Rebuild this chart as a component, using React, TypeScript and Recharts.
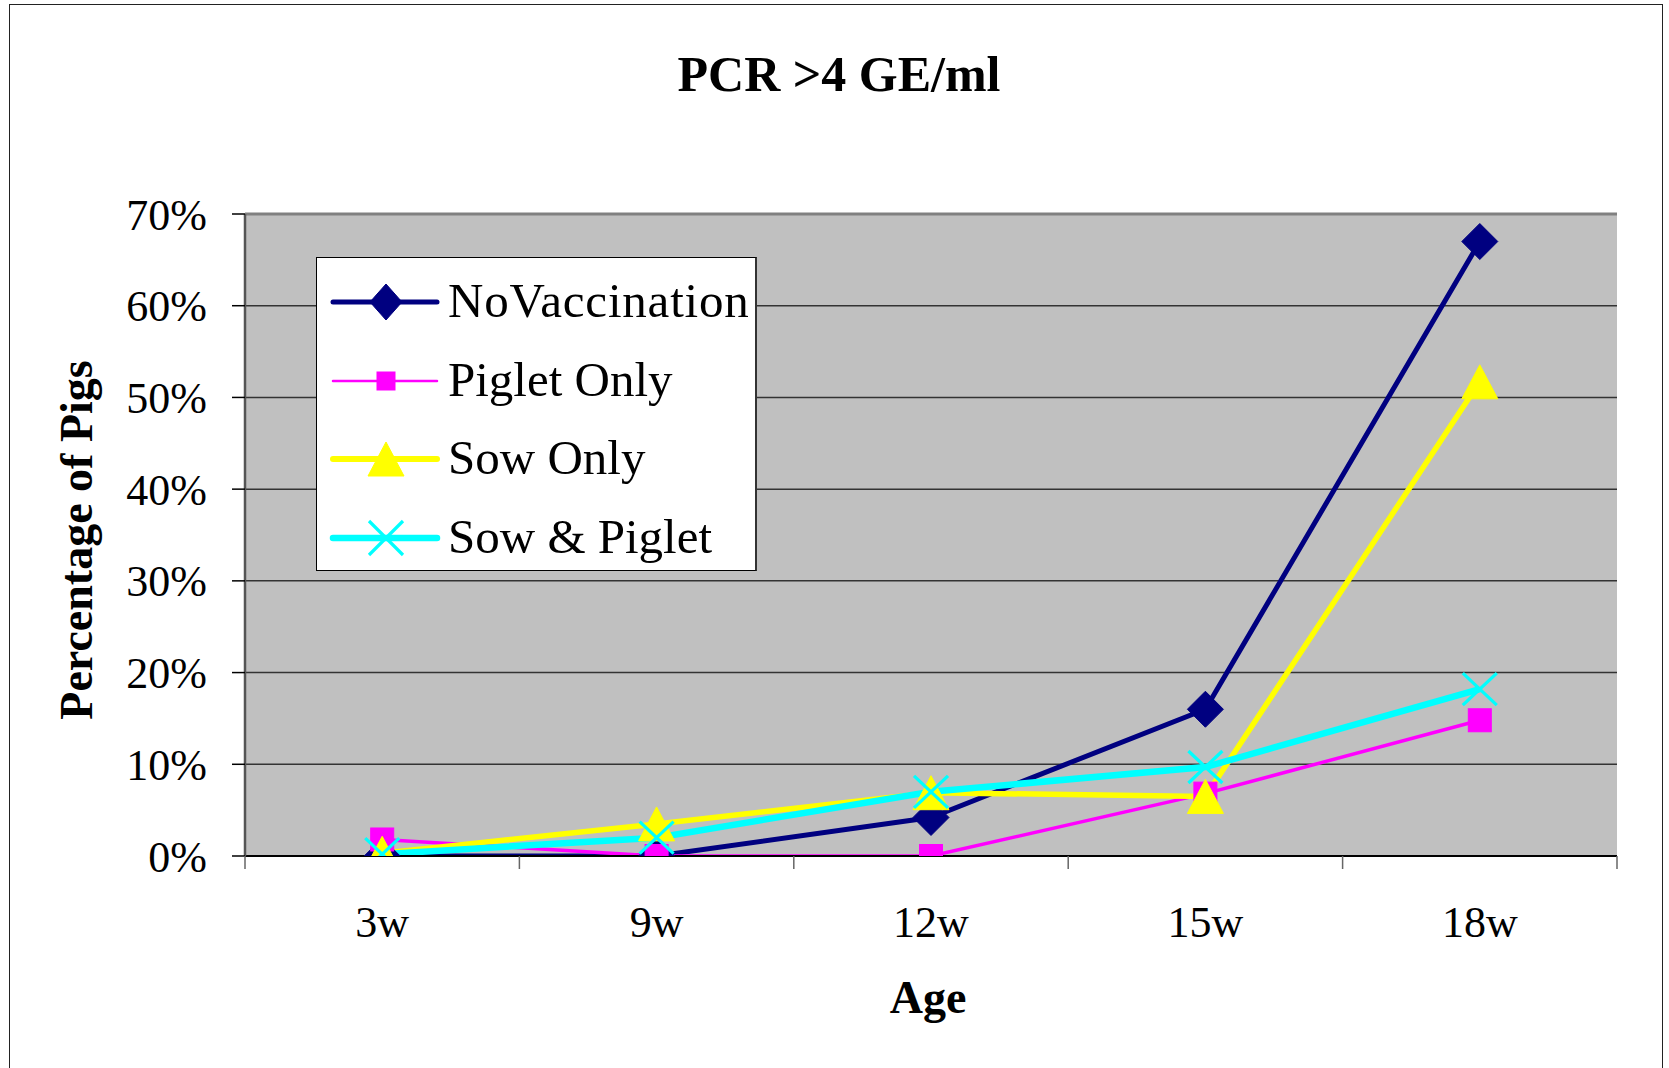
import React from 'react';
import { LineChart, Line, XAxis, YAxis, CartesianGrid, Legend, ReferenceLine } from 'recharts';

const ages = ['3w', '9w', '12w', '15w', '18w'];
const noVaccination = [0, 0, 4.2, 16.0, 67.0];
const pigletOnly = [1.8, 0, 0, 6.8, 14.8];
const sowOnly = [0.3, 3.5, 6.9, 6.5, 51.7];
const sowAndPiglet = [0.2, 2.0, 7.0, 9.7, 18.2];
const yTicks = [0, 10, 20, 30, 40, 50, 60, 70];
const seriesNames = ['NoVaccination', 'Piglet Only', 'Sow Only', 'Sow & Piglet'];

const data = ages.map((age, i) => ({
  age,
  nv: noVaccination[i],
  po: pigletOnly[i],
  so: sowOnly[i],
  sp: sowAndPiglet[i],
}));

const FONT = '"Liberation Serif", "Times New Roman", serif';
const NAVY = '#000080';
const MAGENTA = '#FF00FF';
const YELLOW = '#FFFF00';
const CYAN = '#00FFFF';

const X_TICK_SIZE = 13;
const X_TICK_MARGIN = 68;

const diamond = (cx: number, cy: number, hw: number, hh: number, color: string, key?: string) => (
  <polygon
    key={key}
    points={`${cx},${cy - hh} ${cx + hw},${cy} ${cx},${cy + hh} ${cx - hw},${cy}`}
    fill={color}
    stroke={color}
    strokeWidth={1}
    strokeLinejoin="round"
  />
);
const square = (cx: number, cy: number, s: number, color: string, key?: string) => (
  <rect key={key} x={cx - s / 2} y={cy - s / 2} width={s} height={s} fill={color} stroke={color} strokeWidth={1} />
);
const triangle = (cx: number, cy: number, hw: number, hh: number, color: string, key?: string) => (
  <polygon
    key={key}
    points={`${cx},${cy - hh} ${cx + hw},${cy + hh} ${cx - hw},${cy + hh}`}
    fill={color}
    stroke={color}
    strokeWidth={1}
    strokeLinejoin="round"
  />
);
const cross = (cx: number, cy: number, hw: number, hh: number, color: string, key?: string) => (
  <g key={key}>
    <line x1={cx - hw} y1={cy - hh} x2={cx + hw} y2={cy + hh} stroke={color} strokeWidth={3.2} />
    <line x1={cx - hw} y1={cy + hh} x2={cx + hw} y2={cy - hh} stroke={color} strokeWidth={3.2} />
  </g>
);

const dotDiamond = (p: any) => (p.cx == null ? <g key={`nd${p.index}`} /> : diamond(p.cx, p.cy, 18, 18, NAVY, `nd${p.index}`));
const dotSquare = (p: any) => (p.cx == null ? <g key={`ps${p.index}`} /> : square(p.cx, p.cy, 23, MAGENTA, `ps${p.index}`));
const dotTriangle = (p: any) => (p.cx == null ? <g key={`st${p.index}`} /> : triangle(p.cx, p.cy, 18, 17, YELLOW, `st${p.index}`));
const dotCross = (p: any) => (p.cx == null ? <g key={`sx${p.index}`} /> : cross(p.cx, p.cy, 17, 16, CYAN, `sx${p.index}`));

const XTick = (props: any) => {
  const { x, y, payload, index } = props;
  const axisY = y - X_TICK_MARGIN - X_TICK_SIZE;
  const off = payload && typeof payload.offset === 'number' ? payload.offset : 0;
  const last = index === ages.length - 1;
  return (
    <g>
      <line x1={x - off} x2={x - off} y1={axisY} y2={axisY + X_TICK_SIZE} stroke="#666" strokeWidth={1.5} />
      {last && <line x1={x + off} x2={x + off} y1={axisY} y2={axisY + X_TICK_SIZE} stroke="#666" strokeWidth={1.5} />}
      <text x={x} y={y} textAnchor="middle" fontSize={44} fontFamily={FONT} fill="#000">
        {payload.value}
      </text>
    </g>
  );
};

const legendRows = [
  { name: seriesNames[0], color: NAVY, width: 5, spacing: 0.8, icon: (cx: number, cy: number) => diamond(cx, cy, 16, 18, NAVY) },
  { name: seriesNames[1], color: MAGENTA, width: 2.5, spacing: 0, icon: (cx: number, cy: number) => square(cx, cy, 18, MAGENTA) },
  { name: seriesNames[2], color: YELLOW, width: 6, spacing: 0, icon: (cx: number, cy: number) => triangle(cx, cy, 18, 17, YELLOW) },
  { name: seriesNames[3], color: CYAN, width: 6.5, spacing: 0, icon: (cx: number, cy: number) => cross(cx, cy, 17, 17, CYAN) },
];
const rowCenters = [45, 124, 202, 281];

const LegendBox = () => (
  <div
    style={{
      width: 441,
      height: 314,
      background: '#fff',
      border: '1.5px solid #000',
      borderRight: '2.5px solid #333',
      boxSizing: 'border-box',
    }}
  >
    <svg width={441} height={314} style={{ display: 'block', marginLeft: -1.5, marginTop: -1.5 }}>
      {legendRows.map((r, i) => {
        const cy = rowCenters[i];
        return (
          <g key={r.name}>
            <line x1={17} x2={121} y1={cy} y2={cy} stroke={r.color} strokeWidth={r.width} strokeLinecap="round" />
            {r.icon(70, cy)}
            <text x={132} y={cy + 15} fontSize={49} fontFamily={FONT} fill="#000" letterSpacing={r.spacing}>
              {r.name}
            </text>
          </g>
        );
      })}
    </svg>
  </div>
);

export default function App() {
  return (
    <div
      style={{
        position: 'absolute',
        left: 0,
        top: 0,
        width: 1669,
        height: 1068,
        overflow: 'hidden',
        background: '#fff',
        fontFamily: FONT,
      }}
    >
      <div
        style={{
          position: 'absolute',
          left: 9,
          top: 4,
          width: 1654,
          height: 1100,
          borderLeft: '1.5px solid #222',
          borderTop: '1.5px solid #222',
          borderRight: '1.5px solid #222',
          boxSizing: 'border-box',
        }}
      />
      <div
        style={{
          position: 'absolute',
          left: 639,
          top: 49,
          width: 400,
          textAlign: 'center',
          fontSize: 50,
          fontWeight: 'bold',
          lineHeight: '50px',
          color: '#000',
          whiteSpace: 'nowrap',
        }}
      >
        PCR &gt;4 GE/ml
      </div>
      <div style={{ position: 'absolute', left: 0, top: 0 }}>
        <LineChart width={1669} height={1068} data={data} margin={{ top: 214, right: 52, bottom: 92, left: 60 }}>
          <CartesianGrid vertical={false} fill="#C0C0C0" fillOpacity={1} stroke="#333" strokeWidth={1.5} />
          <XAxis
            dataKey="age"
            scale="band"
            interval={0}
            height={120}
            tickSize={X_TICK_SIZE}
            tickMargin={X_TICK_MARGIN}
            tickLine={false}
            tick={<XTick />}
            axisLine={{ stroke: '#000', strokeWidth: 2 }}
            label={() => (
              <text x={928} y={1013} textAnchor="middle" fontSize={46} fontWeight="bold" fontFamily={FONT} fill="#000">
                Age
              </text>
            )}
          />
          <XAxis xAxisId="top" orientation="top" height={0} tick={false} tickLine={false} axisLine={false} />
          <YAxis
            domain={[0, 70]}
            ticks={yTicks}
            interval={0}
            allowDataOverflow
            width={185}
            tickSize={13}
            tickMargin={25}
            tickFormatter={(v: number) => `${v}%`}
            tick={{ fill: '#000', fontSize: 44, fontFamily: FONT }}
            tickLine={{ stroke: '#000', strokeWidth: 1.5 }}
            axisLine={{ stroke: '#555', strokeWidth: 2.5 }}
            label={() => (
              <text
                x={92}
                y={540}
                transform="rotate(-90 92 540)"
                textAnchor="middle"
                fontSize={46}
                fontWeight="bold"
                fontFamily={FONT}
                fill="#000"
              >
                Percentage of Pigs
              </text>
            )}
          />
          <YAxis
            yAxisId="right"
            orientation="right"
            domain={[0, 70]}
            width={0}
            tick={false}
            tickLine={false}
            axisLine={{ stroke: '#808080', strokeWidth: 3 }}
          />
          <ReferenceLine y={70} stroke="#808080" strokeWidth={3} />
          <Line
            dataKey="nv"
            name={seriesNames[0]}
            stroke={NAVY}
            strokeWidth={5}
            dot={dotDiamond}
            activeDot={false}
            isAnimationActive={false}
          />
          <Line
            dataKey="po"
            name={seriesNames[1]}
            stroke={MAGENTA}
            strokeWidth={3.5}
            dot={dotSquare}
            activeDot={false}
            isAnimationActive={false}
          />
          <Line
            dataKey="so"
            name={seriesNames[2]}
            stroke={YELLOW}
            strokeWidth={5.5}
            dot={dotTriangle}
            activeDot={false}
            isAnimationActive={false}
          />
          <Line
            dataKey="sp"
            name={seriesNames[3]}
            stroke={CYAN}
            strokeWidth={6.5}
            dot={dotCross}
            activeDot={false}
            isAnimationActive={false}
          />
          <Legend
            layout="horizontal"
            verticalAlign="middle"
            align="center"
            content={() => <LegendBox />}
            wrapperStyle={{ left: 316, top: 257, width: 441, height: 314 }}
          />
        </LineChart>
      </div>
    </div>
  );
}
